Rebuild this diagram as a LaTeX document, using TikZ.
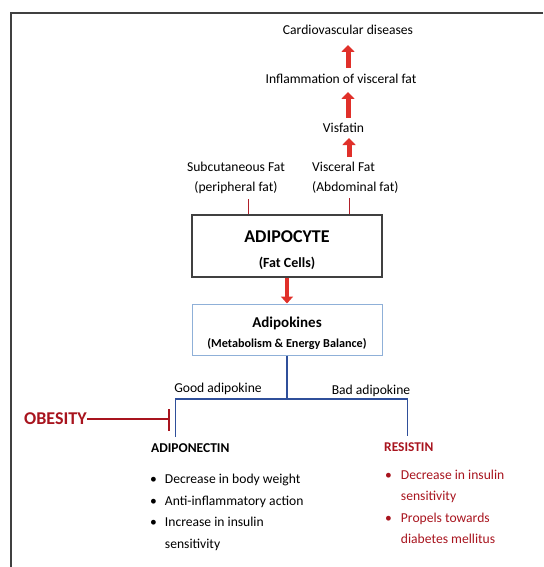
\documentclass[tikz,border=0pt]{standalone}
\usepackage{fontspec}
\setmainfont{Carlito}
\usetikzlibrary{arrows.meta}
\definecolor{framegray}{HTML}{404040}
\definecolor{arrred}{HTML}{E0302A}
\definecolor{tickred}{HTML}{B0202A}
\definecolor{darkred}{HTML}{A8141E}
\definecolor{lineblue}{HTML}{2F4F9A}
\definecolor{boxblue}{HTML}{8FB0D8}
\tikzset{
  lbl/.style={inner sep=0pt, font=\fontsize{13.6}{20}\selectfont, align=center},
  fatarrow/.style={draw=arrred, line width=5pt, -{Triangle[width=13pt,length=7pt]}},
  tick/.style={draw=tickred, line width=1pt},
  blueline/.style={draw=lineblue, line width=1.2pt},
  bullets/.style={inner sep=0pt, anchor=north west, font=\fontsize{13.6}{21.7}\selectfont}
}
\begin{document}
\begin{tikzpicture}[x=1pt,y=-1pt]
\useasboundingbox (0,0) rectangle (543,567);
% frame
\draw[framegray, line width=2pt] (543,13) -- (11,13) -- (11,567);

% top chain
\node[lbl] (cvd) at (348,30) {Cardiovascular diseases};
\node[lbl] (infl) at (341,79) {Inflammation of visceral fat};
\node[lbl] (visf) at (343.5,128) {Visfatin};
\node[lbl] (subc) at (236,178) {Subcutaneous Fat\\(peripheral fat)};
\node[lbl, anchor=west, align=left] (visc) at (312,178) {Visceral Fat\\(Abdominal fat)};

\coordinate (a1s) at (348,68);
\coordinate (a1e) at (348,45);
\coordinate (a2s) at (348,118);
\coordinate (a2e) at (348,92);
\coordinate (a3s) at (349,157);
\coordinate (a3e) at (349,138);
\draw[fatarrow] (a1s) -- (a1e);
\draw[fatarrow] (a2s) -- (a2e);
\draw[fatarrow] (a3s) -- (a3e);

% adipocyte box
\node[draw=framegray, line width=1.2pt, minimum width=190pt, minimum height=62pt, inner sep=0pt] (adip) at (287,246) {};
\node[inner sep=0pt, font=\fontsize{18}{20}\selectfont\bfseries] (adipA) at (287,237) {ADIPOCYTE};
\node[inner sep=0pt, font=\fontsize{14}{18}\selectfont\bfseries] (adipB) at (287,263) {(Fat Cells)};

\coordinate (ts) at (248,0);
\coordinate (tv) at (349,0);
\draw[tick] (adip.north -| ts) -- ++(0,-15);
\draw[tick] (adip.north -| tv) -- ++(0,-16);

% adipokines box
\node[draw=boxblue, line width=1pt, minimum width=190pt, minimum height=51pt, inner sep=0pt] (adk) at (287,329.5) {};
\node[inner sep=0pt, font=\fontsize{15}{18}\selectfont\bfseries] (adkA) at (287,323) {Adipokines};
\node[inner sep=0pt, font=\fontsize{12.2}{15}\selectfont\bfseries] (adkB) at (287,344) {(Metabolism \& Energy Balance)};

\draw[fatarrow, line width=4.5pt, -{Triangle[width=12pt,length=7pt]}] (adip.south) -- (adk.north);

% branch
\coordinate (jn) at (287,399);
\coordinate (lb) at (175.5,437);
\coordinate (rb) at (407.5,436);
\draw[blueline] (adk.south) -- (jn);
\draw[blueline] (lb) |- (jn) -| (rb);

\node[lbl] (good) at (218,389) {Good adipokine};
\node[lbl] (bad) at (371,391) {Bad adipokine};

% obesity
\node[inner sep=0pt, anchor=west, font=\fontsize{18}{20}\selectfont\bfseries, text=darkred] (ob) at (24,419) {OBESITY};
\coordinate (tbar) at (169,419);
\draw[darkred, line width=1.2pt] (ob.east) -- (tbar);
\draw[darkred, line width=1.2pt] (169,409) -- (169,431);

% adiponectin
\node[inner sep=0pt, anchor=west, font=\fontsize{13.5}{16}\selectfont\bfseries] (apn) at (151,448) {ADIPONECTIN};
\node[bullets] (apnl) at (150,468) {%
\begin{tabular}{@{}l@{\hspace{8pt}}l@{}}
\textbullet & Decrease in body weight\\
\textbullet & Anti-inflammatory action\\
\textbullet & Increase in insulin\\
 & sensitivity
\end{tabular}};

% resistin
\node[inner sep=0pt, anchor=west, font=\fontsize{13.4}{16}\selectfont\bfseries, text=darkred] (res) at (384,447) {RESISTIN};
\node[bullets, text=darkred, font=\fontsize{13.6}{21.5}\selectfont] (resl) at (385,464) {%
\begin{tabular}{@{}l@{\hspace{9pt}}l@{}}
\textbullet & Decrease in insulin\\
 & sensitivity\\
\textbullet & Propels towards\\
 & diabetes mellitus
\end{tabular}};
\end{tikzpicture}
\end{document}
